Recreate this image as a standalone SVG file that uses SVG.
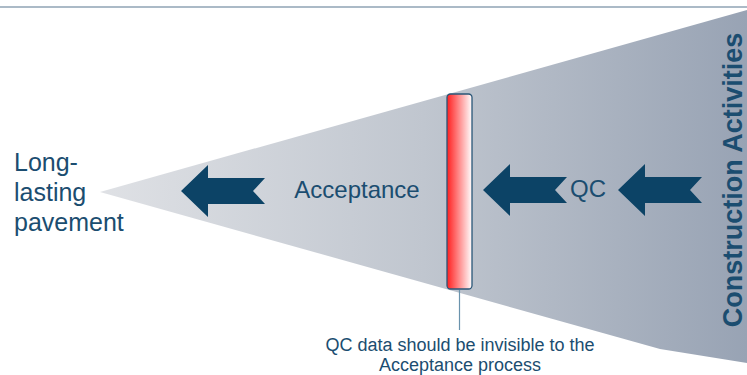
<svg xmlns="http://www.w3.org/2000/svg" width="747" height="375" viewBox="0 0 747 375">
  <style>
    .lbl { font-family: "Liberation Sans", Arial, sans-serif; fill: #1b4d70; }
    .arrow { fill: #0c4366; }
    .rule { stroke: #8fa3b4; stroke-width: 1.5; }
    .leader { stroke: #6a93ad; stroke-width: 1.2; }
  </style>
  <defs>
    <linearGradient id="funnelFill" x1="100" y1="0" x2="747" y2="0" gradientUnits="userSpaceOnUse">
      <stop offset="0" stop-color="#dfe1e5"/>
      <stop offset="0.5" stop-color="#c0c6cf"/>
      <stop offset="1" stop-color="#98a3b4"/>
    </linearGradient>
    <linearGradient id="barFill" x1="0" y1="0" x2="1" y2="0">
      <stop offset="0" stop-color="#ff1f1f"/>
      <stop offset="1" stop-color="#ffffff"/>
    </linearGradient>
    <path id="arrowShape" d="M0,0 L27,-26 L27,-13 L84,-13 L72,0 L84,13 L27,13 L27,26 Z"/>
  </defs>

  <!-- header rule -->
  <line class="rule" x1="0" y1="7" x2="747" y2="7"/>

  <!-- widening funnel -->
  <polygon points="100,192 747,10 747,363 660,349" fill="url(#funnelFill)"/>

  <g id="long-lasting-pavement">
    <text class="lbl" font-size="25" x="14" y="171">Long-</text>
    <text class="lbl" font-size="25" x="14" y="201">lasting</text>
    <text class="lbl" font-size="25" x="14" y="231">pavement</text>
  </g>

  <g id="acceptance">
    <text class="lbl" font-size="24" x="357" y="198" text-anchor="middle">Acceptance</text>
  </g>

  <g id="qc">
    <text class="lbl" font-size="24" x="588" y="197" text-anchor="middle">QC</text>
  </g>

  <g id="construction-activities">
    <text class="lbl" font-size="27" font-weight="bold" text-anchor="middle" transform="translate(742,180) rotate(-90)">Construction Activities</text>
  </g>

  <g id="qc-barrier">
    <rect x="447" y="94" width="25" height="195" rx="3.5" fill="url(#barFill)" stroke="#2a5677" stroke-width="1.3"/>
  </g>

  <g id="barrier-note">
    <text class="lbl" font-size="18" x="460" y="351" text-anchor="middle">QC data should be invisible to the</text>
    <text class="lbl" font-size="18" x="460" y="371" text-anchor="middle">Acceptance process</text>
  </g>

  <g id="connectors">
    <line class="leader" x1="459.5" y1="290" x2="459.5" y2="330"/>
    <use href="#arrowShape" class="arrow" x="181" y="191"/>
    <use href="#arrowShape" class="arrow" x="483" y="190"/>
    <use href="#arrowShape" class="arrow" x="618" y="190"/>
  </g>
</svg>
